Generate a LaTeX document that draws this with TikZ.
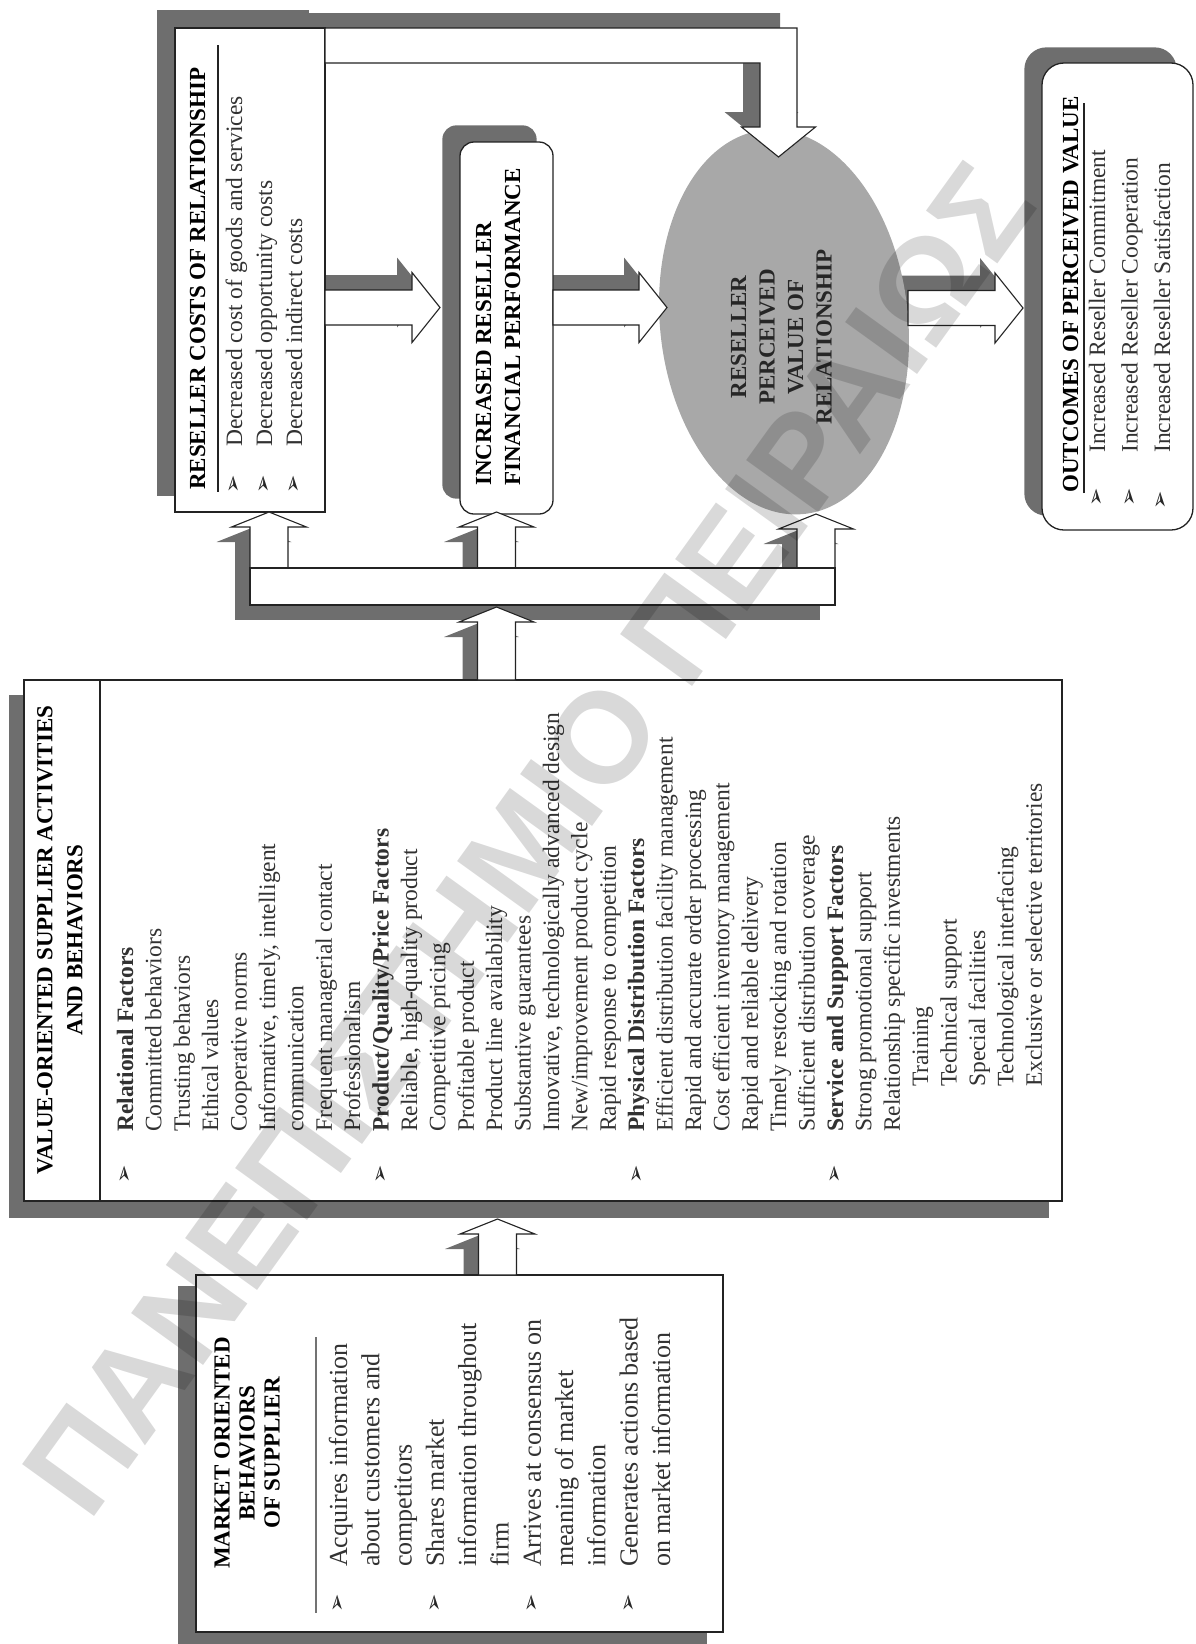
\documentclass[tikz,border=0pt]{standalone}
\usepackage{fontspec}
\setmainfont{Liberation Serif}
\newfontfamily\dingfont{DejaVu Sans}
\newfontfamily\wmfont{Liberation Sans}
\usetikzlibrary{calc,shapes.geometric,backgrounds}

\definecolor{dropgray}{RGB}{110,110,110}
\definecolor{lensgray}{RGB}{168,168,168}
\definecolor{bodyink}{RGB}{50,50,50}
\definecolor{frameink}{RGB}{35,35,35}

\tikzset{
  boxframe/.style={draw=frameink, line width=1.3pt, fill=white, inner sep=0pt},
  drop/.style={fill=dropgray},
  blockbody/.style={draw=frameink, line width=1.1pt, fill=white, line join=miter},
  lens/.style={ellipse, fill=lensgray, minimum width=248pt, minimum height=386pt, rotate=6, inner sep=0pt},
  vtext/.style={rotate=90, inner sep=0pt, text=bodyink, font=\fontsize{23.5}{28}\selectfont},
  vmarket/.style={vtext, font=\fontsize{26}{31}\selectfont},
  vtitle/.style={rotate=90, inner sep=0pt, text=black, font=\bfseries\fontsize{23}{25}\selectfont},
  bullet/.style={rotate=90, inner sep=0pt, text=black!85, font=\dingfont\bfseries\fontsize{22}{22}\selectfont},
  rule/.style={draw=frameink, line width=1.3pt},
  watermark/.style={rotate=54.2, anchor=west, inner sep=0pt, text=black, opacity=0.15,
    font=\wmfont\bfseries\fontsize{129}{129}\selectfont},
}

% right-pointing block arrow: style, shaft start, tip, canvas offset x, y (pt)
\newcommand\rblock[5]{%
  \path[#1] let \p1=(#2), \p2=(#3) in
    ({\x1+(#4pt)},{\y1+17.5pt+(#5pt)}) -- ({\x2-28pt+(#4pt)},{\y1+17.5pt+(#5pt)})
    -- ({\x2-28pt+(#4pt)},{\y1+35pt+(#5pt)}) -- ({\x2+(#4pt)},{\y2+(#5pt)})
    -- ({\x2-28pt+(#4pt)},{\y1-35pt+(#5pt)}) -- ({\x2-28pt+(#4pt)},{\y1-17.5pt+(#5pt)})
    -- ({\x1+(#4pt)},{\y1-17.5pt+(#5pt)}) -- cycle;}

% upward block arrow with a flat head: style, shaft start, tip, canvas offset x, y (pt)
\newcommand\ublock[5]{%
  \path[#1] let \p1=(#2), \p2=(#3) in
    ({\x1-19pt+(#4pt)},{\y1+(#5pt)}) -- ({\x1-19pt+(#4pt)},{\y2-15pt+(#5pt)})
    -- ({\x1-37.5pt+(#4pt)},{\y2-15pt+(#5pt)}) -- ({\x2+(#4pt)},{\y2+(#5pt)})
    -- ({\x1+37.5pt+(#4pt)},{\y2-15pt+(#5pt)}) -- ({\x1+19pt+(#4pt)},{\y2-15pt+(#5pt)})
    -- ({\x1+19pt+(#4pt)},{\y1+(#5pt)}) -- cycle;}

% bent arrow from the costs box down into the value lens
\newcommand\topbracket[1]{%
  \path[#1] (325,28) -- (797,28) -- (797,127) -- (815.5,127) -- (778.5,157)
    -- (741.5,127) -- (760,127) -- (760,63) -- (325,63) -- cycle;}

\begin{document}
\begin{tikzpicture}[x=1pt,y=-1pt]
\useasboundingbox (0,0) rectangle (1195,1644);

% ---------- boxes ----------
\node[boxframe, minimum width=150, minimum height=484] (rc) at (250,270) {};
\node[boxframe, rounded corners=14, minimum width=93, minimum height=372] (inc) at (506.5,328) {};
\node[lens] (pv) at (784,322) {};
\node[boxframe, rounded corners=22, minimum width=151, minimum height=467] (out) at (1117.5,296.5) {};
\node[boxframe, minimum width=1038, minimum height=521] (val) at (543,940.5) {};
\node[boxframe, minimum width=527, minimum height=357] (mkt) at (459.5,1453.5) {};

% ---------- connector end points ----------
\coordinate (h1s) at (325,307.5);  \coordinate (h1t) at (440,307.5);
\coordinate (h2s) at (553,307.5);  \coordinate (h2t) at (667,307.5);
\coordinate (h3s) at (908,308);    \coordinate (h3t) at (1023,308);
\coordinate (u1s) at (269,568);    \coordinate (u1t) at (269,512);
\coordinate (u2s) at (496.5,568);  \coordinate (u2t) at (496.5,512);
\coordinate (u3s) at (816,568);    \coordinate (u3t) at (816,514);
\coordinate (u4s) at (496.5,680);  \coordinate (u4t) at (496.5,607);
\coordinate (u5s) at (497.5,1275); \coordinate (u5t) at (497.5,1219);

% ---------- drop shadows ----------
\begin{scope}[on background layer]
  \fill[drop] ([shift={(-17,-17)}]rc.south west) rectangle ([shift={(-17,-17)}]rc.north east);
  \fill[drop, rounded corners=14] ([shift={(-17,-16)}]inc.south west) rectangle ([shift={(-17,-16)}]inc.north east);
  \fill[drop, rounded corners=22] ([shift={(-17,-15)}]out.south west) rectangle ([shift={(-17,-15)}]out.north east);
  \fill[drop] ([shift={(-14,16)}]val.south west) rectangle ([shift={(-14,16)}]val.north east);
  \fill[drop] ([shift={(-17,12)}]mkt.south west) rectangle ([shift={(-17,12)}]mkt.north east);
  \topbracket{drop, shift={(-17,-15)}}
  \rblock{drop}{h1s}{h1t}{-15}{15}
  \rblock{drop}{h2s}{h2t}{-15}{15}
  \rblock{drop}{h3s}{h3t}{-15}{15}
  \ublock{drop}{u1s}{u1t}{-15}{-15}
  \ublock{drop}{u2s}{u2t}{-15}{-15}
  \ublock{drop}{u3s}{u3t}{-15}{-15}
  \ublock{drop}{u4s}{u4t}{-15}{-15}
  \ublock{drop}{u5s}{u5t}{-15}{-15}
  \fill[drop] (235,583) rectangle (820,620);
\end{scope}

% ---------- block arrows ----------
\topbracket{blockbody}
\rblock{blockbody}{h1s}{h1t}{0}{0}
\rblock{blockbody}{h2s}{h2t}{0}{0}
\rblock{blockbody}{h3s}{h3t}{0}{0}
\ublock{blockbody}{u1s}{u1t}{0}{0}
\ublock{blockbody}{u2s}{u2t}{0}{0}
\ublock{blockbody}{u3s}{u3t}{0}{0}
\ublock{blockbody}{u4s}{u4t}{0}{0}
\ublock{blockbody}{u5s}{u5t}{0}{0}
\draw[blockbody] (250,568) rectangle (835,605);

% ---------- reseller costs ----------
\node[vtitle, anchor=base west] (rc-title) at (205,490) {RESELLER COSTS OF RELATIONSHIP};
\draw[rule, line width=2pt] (218,45) -- (218,492);
\foreach \itm [count=\i from 0] in {Decreased cost of goods and services, Decreased opportunity costs, Decreased indirect costs}{
  \node[vtext, anchor=base west] (rc-\i) at ({242+30*\i},447) {\itm};
  \node[bullet] (rcb-\i) at ({235+30*\i},484) {➢};
}

% ---------- financial performance ----------
\node[vtitle, anchor=base west] (inc-1) at (491,486) {INCREASED RESELLER};
\node[vtitle, anchor=base west] (inc-2) at (520,486) {FINANCIAL PERFORMANCE};

% ---------- perceived value ----------
\foreach \itm [count=\i from 0] in {RESELLER, PERCEIVED, VALUE OF, RELATIONSHIP}
  \node[vtitle, anchor=base, text=black!85] (pv-\i) at ({746+28.5*\i},337) {\itm};

% ---------- outcomes ----------
\node[vtitle, anchor=base west] (out-title) at (1078,493) {OUTCOMES OF PERCEIVED VALUE};
\draw[rule] (1084,493) -- (1084,103);
\foreach \itm/\bx/\by [count=\i from 0] in {Increased Reseller Commitment/1098/497, Increased Reseller Cooperation/1131/497, Increased Reseller Satisfaction/1162/500}{
  \node[vtext, anchor=base west] (out-\i) at ({1105+32.5*\i},453) {\itm};
  \node[bullet] (outb-\i) at (\bx,\by) {➢};
}

% ---------- value-oriented supplier activities ----------
\node[vtitle, align=center, font=\bfseries\fontsize{23}{30}\selectfont] (val-title) at (60,940) {VALUE-ORIENTED SUPPLIER ACTIVITIES\\AND BEHAVIORS};
\draw[rule] (100,680) -- (100,1201);
\foreach \itm [count=\i from 0] in {%
  {\textbf{Relational Factors}}, Committed behaviors, Trusting behaviors, Ethical values,
  Cooperative norms, {Informative, timely, intelligent}, communication,
  Frequent managerial contact, Professionalism,
  {\textbf{Product/Quality/Price Factors}}, {Reliable, high-quality product},
  Competitive pricing, Profitable product, Product line availability,
  Substantive guarantees, {Innovative, technologically advanced design},
  New/improvement product cycle, Rapid response to competition,
  {\textbf{Physical Distribution Factors}}, Efficient distribution facility management,
  Rapid and accurate order processing, Cost efficient inventory management,
  Rapid and reliable delivery, Timely restocking and rotation,
  Sufficient distribution coverage,
  {\textbf{Service and Support Factors}}, Strong promotional support,
  Relationship specific investments}
  \node[vtext, anchor=base west] (val-\i) at ({133+28.4*\i},1132) {\itm};
\foreach \itm [count=\i from 28] in {Training, Technical support, Special facilities,
  Technological interfacing, Exclusive or selective territories}
  \node[vtext, anchor=base west] (val-\i) at ({133+28.4*\i},1087) {\itm};
\foreach \r in {0,9,18,25}
  \node[bullet] (valb-\r) at ({126+28.4*\r},1174) {➢};

% ---------- market oriented behaviors ----------
\node[vtitle, align=center] (mkt-title) at (247,1453) {MARKET ORIENTED\\BEHAVIORS\\OF SUPPLIER};
\draw[rule, draw=black!55, line width=1.6pt] (316,1337) -- (316,1613);
\foreach \itm [count=\i from 0] in {Acquires information, about customers and, competitors,
  Shares market, information throughout, firm, Arrives at consensus on,
  meaning of market, information, Generates actions based, on market information}
  \node[vmarket, anchor=base west] (mk-\i) at ({347+32.3*\i},1567) {\itm};
\foreach \r in {0,3,6,9}
  \node[bullet] (mkb-\r) at ({339+32.3*\r},1603) {➢};

% ---------- repository stamp ----------
\node[watermark] (stamp) at (53,1498) {ΠΑΝΕΠΙΣΤΗΜΙΟ ΠΕΙΡΑΙΩΣ};

\end{tikzpicture}
\end{document}
